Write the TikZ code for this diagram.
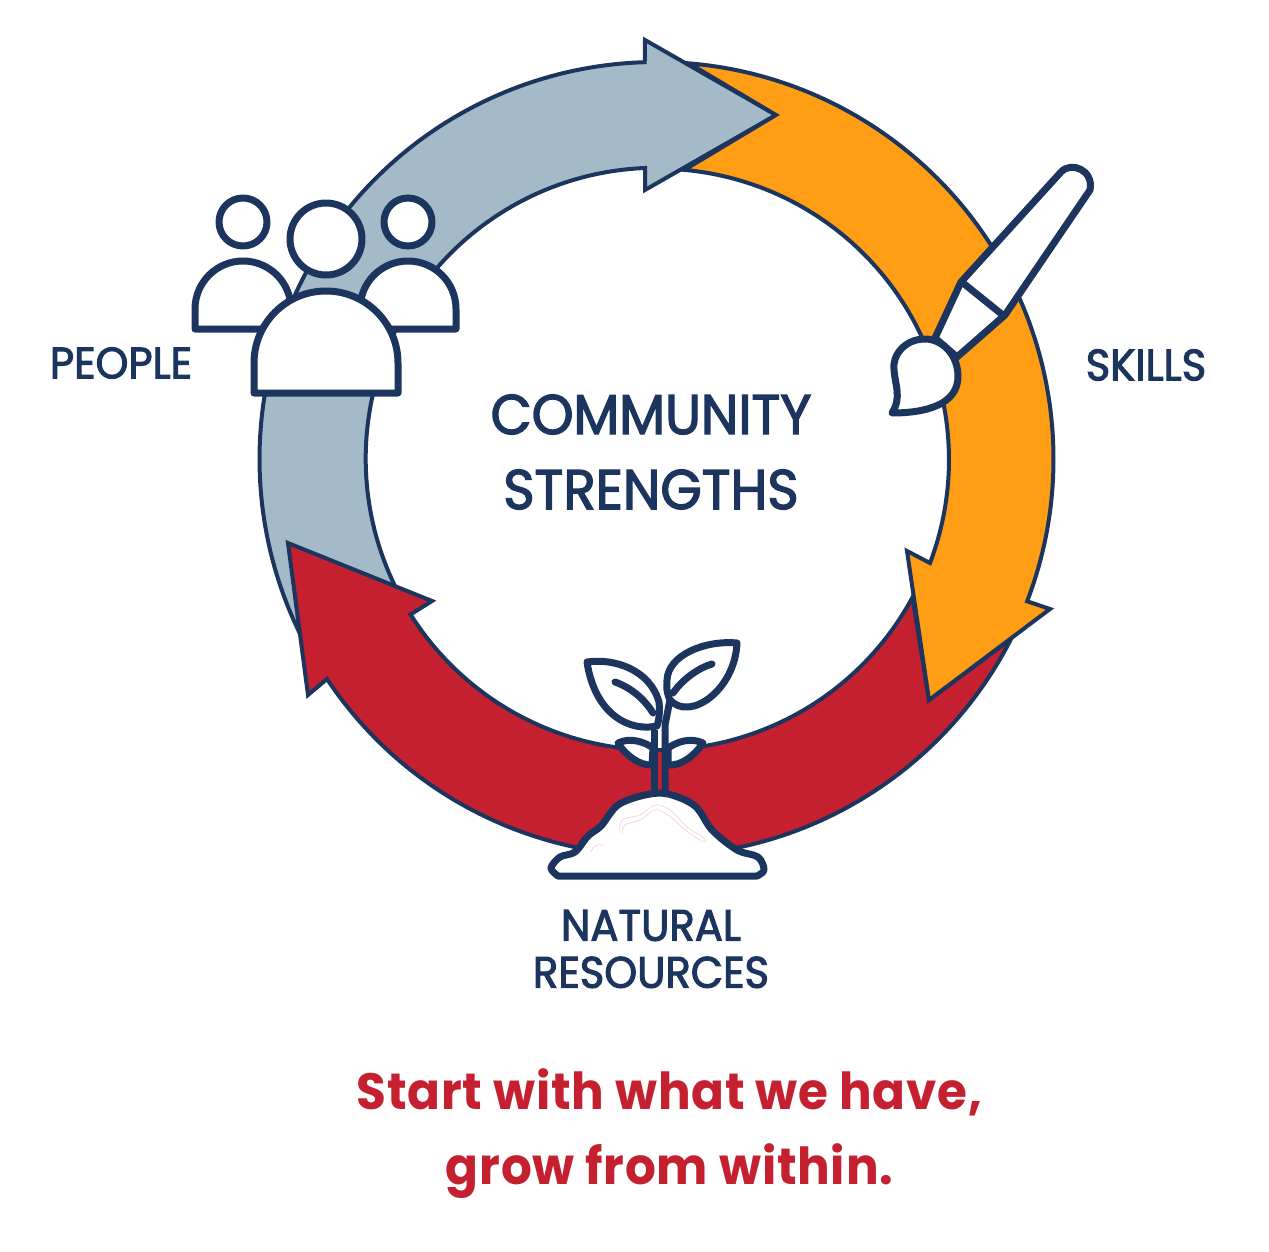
\documentclass[tikz,border=0pt]{standalone}
\usepackage{fontspec}
\usepackage{tikz}
\usetikzlibrary{calc}
\setmainfont{Poppins}
\newfontfamily\labelfont{Poppins}[FakeStretch=0.95, FakeBold=2.4]
\newfontfamily\tagfont{Poppins}[FakeStretch=0.95, LetterSpace=1.5]
\definecolor{navy}{HTML}{1C355E}
\definecolor{steel}{HTML}{A5BAC8}
\definecolor{amber}{HTML}{FF9E14}
\definecolor{crimson}{HTML}{C5202F}
\tikzstyle{band} = [draw=navy, line width=4pt, miter limit=10]
\tikzstyle{icon} = [draw=navy, fill=white, line width=7pt, line join=round, line cap=round]
\tikzstyle{vein} = [draw=navy, line width=7pt, line cap=round]
\tikzstyle{label} = [text=navy, inner sep=0pt, align=center, font=\fontsize{44}{47}\selectfont\labelfont]
\tikzstyle{title} = [text=navy, inner sep=0pt, align=center, font=\fontsize{56}{75}\selectfont\labelfont]
\tikzstyle{motto} = [text=crimson, inner sep=0pt, align=center, font=\fontsize{51}{75}\selectfont\tagfont\bfseries]
\begin{document}
\begin{tikzpicture}[x=1pt, y=1pt]
    \useasboundingbox (0,0) rectangle (1269,-1252);
    \coordinate (ringc) at (656.5,-459);

    % the three arrows of the ring
    \path [band, fill=steel] ($(ringc)+(205.9:397)$) arc[start angle=205.9, end angle=91.7, radius=397pt]
      -- (645,-40) -- (776,-115) -- (645,-190) -- (645,-168)
      arc[start angle=92.3, end angle=205.6, radius=291pt] -- cycle;
    \path [band, fill=crimson] (327,-679) arc[start angle=213.7, end angle=333, radius=397pt]
      -- (929,-700) -- ($(ringc)+(331.6:291)$) arc[start angle=331.6, end angle=212.3, radius=291pt]
      -- (432,-601) -- (288,-543) -- (308,-695) -- cycle;
    \path [band, fill=amber] ($(ringc)+(85.3:397)$) arc[start angle=85.3, end angle=-21, radius=397pt]
      -- (1050,-609) -- (929,-700) -- (907,-551) -- (930,-563)
      arc[start angle=-20.8, end angle=84.8, radius=291pt] -- (776,-115) -- cycle;

    % people
    \draw [icon] (243,-222) circle[radius=24pt];
    \draw [icon] (408,-222) circle[radius=24pt];
    \draw [icon] (326,-239) circle[radius=36pt];
    \draw [icon] (195,-329) -- (195,-309) arc[start angle=180, end angle=0, radius=48pt] -- (291,-329) -- cycle;
    \draw [icon] (360,-329) -- (360,-309) arc[start angle=180, end angle=0, radius=48pt] -- (456,-329) -- cycle;
    \draw [icon] (254,-393) -- (254,-363) arc[start angle=180, end angle=0, radius=72pt] -- (398,-393) -- cycle;

    % brush
    \draw [icon] (935,-338) -- (961,-282) -- (1061,-172)
      .. controls (1071,-161) and (1094,-170) .. (1090,-190)
      -- (1005,-315) -- (957,-357) -- cycle;
    \draw [vein, line cap=butt] (963,-283) -- (1004,-316);
    \draw [icon] (892,-413) .. controls (925,-413) and (959,-405) .. (958,-375)
      .. controls (957,-352) and (940,-339) .. (925,-339)
      .. controls (905,-339) and (892,-355) .. (894,-370)
      .. controls (895,-385) and (902,-397) .. cycle;

    % plant
    \draw [vein, line cap=butt] (654.5,-795) -- (654.5,-730);
    \draw [vein, line cap=butt] (665,-795) -- (665,-725) -- (670,-700);
    \draw [icon] (587,-662) .. controls (615,-658) and (650,-670) .. (659,-702)
      .. controls (660,-712) and (659,-720) .. (657,-726)
      .. controls (630,-732) and (595,-715) .. cycle;
    \draw [vein] (615,-682) .. controls (632,-688) and (645,-700) .. (653,-713);
    \draw [icon] (737,-643) .. controls (705,-640) and (668,-655) .. (667,-680)
      .. controls (666,-690) and (668,-696) .. (670,-700)
      .. controls (690,-722) and (735,-690) .. cycle;
    \draw [vein] (712,-664) .. controls (698,-668) and (682,-680) .. (673,-693);
    \draw [icon] (618,-743) .. controls (630,-737) and (645,-742) .. (653,-748)
      -- (652,-765) .. controls (640,-766) and (625,-755) .. cycle;
    \draw [icon] (703,-743) .. controls (690,-737) and (677,-742) .. (668,-748)
      -- (668,-765) .. controls (682,-766) and (695,-755) .. cycle;
    \draw [icon] plot[smooth, tension=0.55] coordinates {(558,-876) (551,-868) (560,-857) (575,-852) (588,-836)
      (601,-826) (618,-805) (645,-795) (668,-794) (695,-806) (712,-830) (737,-850) (758,-857) (764,-870) (757,-876)} -- cycle;
    \draw [crimson!25, line width=0.5pt] plot[smooth, tension=0.6] coordinates {(620,-833) (622,-820) (640,-815)
      (655,-805) (670,-810) (687,-827) (703,-837) (704,-842) (688,-832) (668,-815) (655,-810) (640,-820) (625,-825) (622,-834)};
    \draw [crimson!25, line width=0.5pt] (591,-852) .. controls (593,-845) and (600,-843) .. (604,-846);

    \node [title] (center) at (651,-452) {COMMUNITY\\STRENGTHS};
    \node [label] (people) at (121,-363) {PEOPLE};
    \node [label] (skills) at (1146,-365) {SKILLS};
    \node [label] (natural) at (651,-949) {NATURAL\\RESOURCES};
    \node [motto] (motto) at (669.5,-1134) {Start with what we have,\\grow from within.};
\end{tikzpicture}
\end{document}
